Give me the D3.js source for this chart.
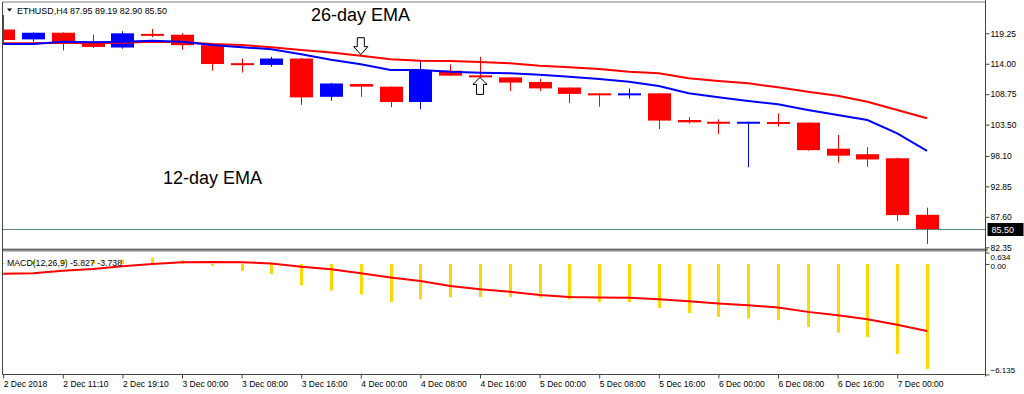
<!DOCTYPE html>
<html>
<head>
<meta charset="utf-8">
<script src="https://cdn.jsdelivr.net/npm/d3@7"></script>
<style>
  body { margin: 0; background: #fff; }
  svg { display: block; font-family: "Liberation Sans", Arial, sans-serif; }
</style>
</head>
<body>
<div id="chart"></div>
<script>
// ETHUSD H4 candles, 2 Dec 2018 .. 7 Dec 2018
const timeLabels = ["2 Dec 2018", "2 Dec 11:10", "2 Dec 19:10", "3 Dec 00:00", "3 Dec 08:00", "3 Dec 16:00",
  "4 Dec 00:00", "4 Dec 08:00", "4 Dec 16:00", "5 Dec 00:00", "5 Dec 08:00", "5 Dec 16:00",
  "6 Dec 00:00", "6 Dec 08:00", "6 Dec 16:00", "7 Dec 00:00"];

const opens = [119.90, 118.20, 119.35, 117.80, 116.80, 119.15, 119.00, 117.20, 114.10, 113.80, 114.90, 108.30,
  110.50, 110.05, 107.40, 112.80, 112.00, 111.65, 110.85, 109.90, 108.90, 108.55, 108.90, 104.30,
  104.00, 103.90, 103.95, 103.85, 99.35, 98.40, 97.70, 87.95];
const highs = [122.40, 119.40, 119.40, 119.00, 119.60, 120.00, 119.25, 117.60, 114.90, 115.20, 115.00, 110.70,
  110.50, 110.05, 114.65, 113.90, 115.20, 111.65, 111.35, 109.90, 108.90, 109.75, 108.90, 104.80,
  104.40, 104.00, 105.45, 103.85, 101.70, 99.60, 97.80, 89.19];
const lows = [117.60, 117.80, 116.30, 116.70, 116.60, 118.60, 116.40, 112.80, 112.50, 113.50, 106.90, 107.60,
  108.30, 106.50, 106.15, 111.90, 111.50, 109.30, 109.30, 107.20, 106.60, 108.00, 102.75, 103.70,
  101.90, 96.15, 103.15, 99.00, 96.95, 96.25, 86.90, 82.90];
const closes = [118.10, 119.35, 117.65, 116.90, 119.25, 119.05, 117.20, 113.95, 113.90, 114.90, 108.20, 110.60,
  110.05, 107.40, 112.90, 111.95, 111.65, 110.75, 109.75, 108.80, 108.55, 108.90, 104.20, 103.90,
  103.70, 104.00, 103.85, 99.10, 98.15, 97.50, 87.90, 85.50];

const emaSlow = [117.53, 117.53, 117.63, 117.53, 117.63, 117.80, 117.75, 117.41, 117.23, 116.84, 116.37, 115.94,
  115.39, 114.77, 114.53, 114.47, 114.30, 114.08, 113.66, 113.39, 113.09, 112.63, 112.35, 111.49,
  111.03, 110.63, 109.94, 109.18, 108.49, 107.46, 106.03, 104.59];
const emaFast = [117.41, 117.41, 117.80, 117.70, 117.80, 117.97, 117.80, 117.23, 116.84, 116.49, 115.63, 114.70,
  113.91, 112.92, 112.92, 112.63, 112.46, 112.35, 112.11, 111.77, 111.37, 110.91, 110.16, 108.91,
  108.22, 107.58, 107.01, 106.03, 105.16, 104.30, 102.01, 98.96];

const macdMain = [0.05, 0.15, 0.2, 0.15, 0.25, 0.35, 0.2, -0.1, -0.38, -0.56, -1.18, -1.47,
  -1.69, -2.11, -1.96, -1.86, -1.84, -1.83, -1.88, -1.97, -2.11, -2.11, -2.44, -2.72,
  -2.94, -3.03, -3.12, -3.50, -3.81, -4.06, -5.00, -5.827];
const macdSignal = [-0.55, -0.52, -0.38, -0.28, -0.13, -0.01, 0.09, 0.11, 0.09, 0.03, -0.16, -0.30,
  -0.52, -0.75, -0.95, -1.23, -1.40, -1.55, -1.73, -1.83, -1.86, -1.88, -1.96, -2.07,
  -2.19, -2.29, -2.42, -2.66, -2.85, -3.07, -3.37, -3.72];

const priceTicks = [119.25, 114.00, 108.75, 103.50, 98.10, 92.85, 87.60, 82.35];
const macdTicks = [0.634, 0.00, -6.135];
const lastPrice = 85.50;

const width = 1024, height = 394;
const left = 2.5, right = 985.5;
const mainTop = 2, mainBottom = 249;
const macdTop = 252.5, macdBottom = 374.5;
const bull = "#0000ff", bear = "#ff0000";

const svg = d3.select("#chart").append("svg")
  .attr("width", width)
  .attr("height", height);

const x = d3.scaleLinear().domain([0, opens.length - 1]).range([3.2, 927]);
const y = d3.scaleLinear().domain([82.35, 119.25]).range([247.3, 33.3]);
const yMacd = d3.scaleLinear().domain([-6.135, 0.634]).range([macdBottom, macdTop]);

const defs = svg.append("defs");
defs.append("clipPath").attr("id", "clipMain").append("rect")
  .attr("x", left + 0.5).attr("y", mainTop).attr("width", right - left - 1).attr("height", mainBottom - mainTop);
defs.append("clipPath").attr("id", "clipMacd").append("rect")
  .attr("x", left + 0.5).attr("y", macdTop - 1).attr("width", right - left - 1).attr("height", macdBottom - macdTop + 1);

// ---- main panel
const main = svg.append("g").attr("clip-path", "url(#clipMain)");

main.append("line")
  .attr("x1", left).attr("x2", right)
  .attr("y1", Math.round(y(lastPrice)) + 0.5).attr("y2", Math.round(y(lastPrice)) + 0.5)
  .attr("stroke", "#5f8585").attr("stroke-width", 1);

const idx = d3.range(opens.length);
const bodyW = 23;

main.selectAll("line.wick")
  .data(idx)
  .join("line")
  .attr("class", "wick")
  .attr("x1", i => Math.round(x(i)) + 0.5)
  .attr("x2", i => Math.round(x(i)) + 0.5)
  .attr("y1", i => y(highs[i]))
  .attr("y2", i => y(lows[i]))
  .attr("stroke", i => closes[i] >= opens[i] ? bull : bear)
  .attr("stroke-width", 1);

main.selectAll("rect.body")
  .data(idx)
  .join("rect")
  .attr("class", "body")
  .attr("x", i => Math.round(x(i)) + 0.5 - bodyW / 2)
  .attr("y", i => y(Math.max(opens[i], closes[i])))
  .attr("width", bodyW)
  .attr("height", i => Math.max(2, Math.abs(y(opens[i]) - y(closes[i]))))
  .attr("fill", i => closes[i] >= opens[i] ? bull : bear);

const lineMain = series => d3.line().x(i => x(i)).y(i => y(series[i]))(idx);

main.append("path").attr("d", lineMain(emaSlow))
  .attr("fill", "none").attr("stroke", "#ff0000").attr("stroke-width", 2);
main.append("path").attr("d", lineMain(emaFast))
  .attr("fill", "none").attr("stroke", "#0000ff").attr("stroke-width", 2);

// hollow arrows
const downArrow = "M-3.5,-17L3.5,-17L3.5,-8L7,-8L0,0L-7,-8L-3.5,-8Z";
const upArrow = "M-3.5,17L3.5,17L3.5,7L7,7L0,0L-7,7L-3.5,7Z";
main.append("path").attr("d", downArrow)
  .attr("transform", `translate(${x(12)},${y(emaSlow[12]) - 1})`)
  .attr("fill", "#fff").attr("stroke", "#000").attr("stroke-width", 1);
main.append("path").attr("d", upArrow)
  .attr("transform", `translate(${x(16)},${y(closes[16])})`)
  .attr("fill", "#fff").attr("stroke", "#000").attr("stroke-width", 1);

// annotations
svg.append("text").attr("x", 311).attr("y", 21)
  .style("font-size", "18px")
  .text("26-day EMA");
svg.append("text").attr("x", 163).attr("y", 184)
  .style("font-size", "18px")
  .text("12-day EMA");

// title
svg.append("path").attr("d", "M7,8.5L12,8.5L9.5,11.5Z").attr("fill", "#000");
svg.append("text").attr("x", 17).attr("y", 13.5)
  .style("font-size", "9px").attr("fill", "#000")
  .attr("textLength", 150).attr("lengthAdjust", "spacingAndGlyphs")
  .text("ETHUSD,H4  87.95 89.19 82.90 85.50");

// ---- MACD panel
const macd = svg.append("g").attr("clip-path", "url(#clipMacd)");

macd.selectAll("rect.hist")
  .data(idx)
  .join("rect")
  .attr("class", "hist")
  .attr("x", i => Math.round(x(i)) - 1)
  .attr("y", i => Math.min(yMacd(0), yMacd(macdMain[i])))
  .attr("width", 3)
  .attr("height", i => Math.abs(yMacd(macdMain[i]) - yMacd(0)))
  .attr("fill", "#ffd700");

macd.append("path")
  .attr("d", d3.line().x(i => x(i)).y(i => yMacd(macdSignal[i]))(idx))
  .attr("fill", "none").attr("stroke", "#ff0000").attr("stroke-width", 2);

svg.append("text").attr("x", 7).attr("y", 265.5)
  .style("font-size", "9px").attr("fill", "#000")
  .attr("textLength", 115).attr("lengthAdjust", "spacingAndGlyphs")
  .text("MACD(12,26,9) -5.827 -3.738");

// ---- frame and separators
svg.append("rect").attr("x", left).attr("y", 248.5).attr("width", right - left + 2).attr("height", 3)
  .attr("fill", "#8c8c8c");
svg.append("line").attr("x1", left).attr("x2", right + 2).attr("y1", 249.5).attr("y2", 249.5)
  .attr("stroke", "#6a6a6a");
svg.append("line").attr("x1", left).attr("x2", right).attr("y1", mainTop).attr("y2", mainTop)
  .attr("stroke", "#808080");
svg.append("line").attr("x1", left).attr("x2", left).attr("y1", mainTop).attr("y2", macdBottom)
  .attr("stroke", "#444");
svg.append("line").attr("x1", right).attr("x2", right).attr("y1", 0).attr("y2", macdBottom + 2)
  .attr("stroke", "#444");
svg.append("line").attr("x1", left).attr("x2", right).attr("y1", macdBottom).attr("y2", macdBottom)
  .attr("stroke", "#444");

// ---- axes
const priceAxis = svg.append("g")
  .attr("transform", `translate(${right},0)`)
  .call(d3.axisRight(y).tickValues(priceTicks).tickSize(4).tickPadding(1).tickFormat(d3.format(".2f")));

const macdAxis = svg.append("g")
  .attr("transform", `translate(${right},0)`)
  .call(d3.axisRight(yMacd).tickValues(macdTicks).tickSize(4).tickPadding(1)
    .tickFormat(d => d === 0 ? "0.00" : d3.format(".3f")(d)));

[priceAxis, macdAxis].forEach(g => {
  g.selectAll(".tick text").style("font-size", "8.5px");
});
// keep edge labels inside the panel like the terminal does
macdAxis.selectAll(".tick text")
  .style("font-size", "8px")
  .attr("dy", d => d === 0.634 ? "0.88em" : d === -6.135 ? "-0.2em" : "0.62em");

const timeAxis = svg.append("g")
  .attr("transform", `translate(0,${macdBottom})`)
  .call(d3.axisBottom(x).tickValues(d3.range(0, opens.length, 2)).tickSize(4).tickPadding(2)
    .tickFormat(i => timeLabels[i / 2]));
timeAxis.selectAll(".tick text").attr("text-anchor", "start").attr("x", 0).style("font-size", "8.5px");

[priceAxis, macdAxis, timeAxis].forEach(g => {
  g.select(".domain").remove();
  g.selectAll(".tick line").attr("stroke", "#444");
  g.selectAll(".tick text")
    .style("font-family", "'Liberation Sans', Arial, sans-serif").attr("fill", "#000");
});

// last price marker
const lp = svg.append("g").attr("transform", `translate(${right + 2},${Math.round(y(lastPrice)) + 0.5})`);
lp.append("rect").attr("x", 0).attr("y", -6.5).attr("width", 36).attr("height", 13).attr("fill", "#000");
lp.append("text").attr("x", 4).attr("y", 3)
  .style("font-size", "9px").attr("fill", "#fff").text(d3.format(".2f")(lastPrice));
</script>
</body>
</html>
